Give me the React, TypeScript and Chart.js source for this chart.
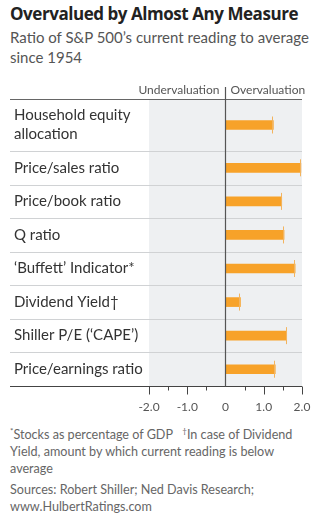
import React, { useEffect, useRef } from 'react';
import { Chart, registerables } from 'chart.js';
Chart.register(...registerables);

const categories: (string | string[])[] = [
  ['Household equity', 'allocation'],
  'Price/sales ratio',
  'Price/book ratio',
  'Q ratio',
  '‘Buffett’ Indicator*',
  'Dividend Yield†',
  'Shiller P/E (‘CAPE’)',
  'Price/earnings ratio',
];
const values: number[] = [1.25, 1.97, 1.47, 1.53, 1.82, 0.39, 1.6, 1.3];
const xTickValues: number[] = [-2, -1, 0, 1, 2];
const xTickLabels: string[] = ['-2.0', '-1.0', '0', '1.0', '2.0'];
const headerLeft = 'Undervaluation';
const headerRight = 'Overvaluation';

const FONT = 'Lato';
const TITLE_FONT = '"Open Sans"';

const rowWeights = categories.map((c) => (Array.isArray(c) ? 1 + 0.55 * (c.length - 1) : 1));
const bounds: number[] = [0];
rowWeights.forEach((w) => bounds.push(bounds[bounds.length - 1] + w));
const centers = rowWeights.map((w, i) => bounds[i] + w / 2);
const total = bounds[bounds.length - 1];

const decorPlugin = {
  id: 'decor',
  beforeDatasetsDraw(chart: any) {
    const { ctx, chartArea } = chart;
    ctx.save();
    ctx.fillStyle = '#eef0f2';
    ctx.fillRect(chartArea.left, chartArea.top, chartArea.right - chartArea.left, chartArea.bottom - chartArea.top);
    const y = chart.scales.y;
    ctx.strokeStyle = '#d0d2d4';
    ctx.lineWidth = 1;
    for (let i = 1; i < bounds.length - 1; i++) {
      const py = Math.round(y.getPixelForValue(bounds[i])) + 0.5;
      ctx.beginPath();
      ctx.moveTo(10, py);
      ctx.lineTo(chartArea.right, py);
      ctx.stroke();
    }
    ctx.restore();
  },
  afterDatasetsDraw(chart: any) {
    const { ctx, chartArea } = chart;
    const x = chart.scales.x;
    ctx.save();
    const meta = chart.getDatasetMeta(0);
    ctx.strokeStyle = '#f3b45e';
    ctx.lineWidth = 1;
    meta.data.forEach((bar: any) => {
      const px = Math.round(bar.x) - 0.5;
      ctx.beginPath();
      ctx.moveTo(px, bar.y - 8.5);
      ctx.lineTo(px, bar.y + 8.5);
      ctx.stroke();
    });
    ctx.strokeStyle = '#666';
    ctx.lineWidth = 1.2;
    const top = Math.round(chartArea.top) + 0.5;
    ctx.beginPath();
    ctx.moveTo(10, top);
    ctx.lineTo(chartArea.right, top);
    ctx.stroke();
    const bot = Math.round(chartArea.bottom) + 0.5;
    ctx.strokeStyle = '#444';
    ctx.beginPath();
    ctx.moveTo(10, bot);
    ctx.lineTo(chartArea.right, bot);
    ctx.stroke();
    ctx.strokeStyle = '#444';
    ctx.lineWidth = 1;
    x.ticks.forEach((t: any) => {
      if (t.value === 0) return;
      const px = Math.round(x.getPixelForValue(t.value)) + 0.5;
      const major = Number.isInteger(t.value);
      ctx.beginPath();
      ctx.moveTo(px, bot);
      ctx.lineTo(px, bot + (major ? 8 : 4));
      ctx.stroke();
    });
    const zx = Math.round(x.getPixelForValue(0)) - 0.5;
    ctx.strokeStyle = '#555';
    ctx.lineWidth = 1.2;
    ctx.beginPath();
    ctx.moveTo(zx, chartArea.top - 12);
    ctx.lineTo(zx, bot);
    ctx.stroke();
    ctx.fillStyle = '#555';
    ctx.font = `12px ${FONT}`;
    ctx.textBaseline = 'middle';
    ctx.textAlign = 'right';
    ctx.fillText(headerLeft, zx - 6, chartArea.top - 9);
    ctx.textAlign = 'left';
    ctx.fillText(headerRight, zx + 5, chartArea.top - 9);
    ctx.restore();
  },
};

export default function App() {
  const ref = useRef<HTMLCanvasElement>(null);
  useEffect(() => {
    if (!ref.current) return;
    const chart = new Chart(ref.current, {
      type: 'bar',
      data: {
        datasets: [
          {
            data: values.map((v, i) => ({ x: v, y: centers[i] })),
            backgroundColor: '#f7a229',
            borderWidth: 0,
            barThickness: 9,
          },
        ],
      },
      options: {
        indexAxis: 'y',
        animation: false,
        responsive: false,
        maintainAspectRatio: false,
        layout: { padding: { left: 14, right: 27, top: 24, bottom: 0 } },
        plugins: { legend: { display: false }, tooltip: { enabled: false } },
        scales: {
          x: {
            type: 'linear',
            min: -2,
            max: 2,
            position: 'bottom',
            border: { display: false },
            grid: { display: false },
            ticks: {
              stepSize: 0.5,
              autoSkip: false,
              maxRotation: 0,
              padding: 6,
              color: '#555',
              font: { family: FONT, size: 12 },
              callback: (v: any) => {
                const idx = xTickValues.indexOf(Number(v));
                return idx >= 0 ? xTickLabels[idx] : '';
              },
            },
            afterFit: (s: any) => {
              s.height = 29;
            },
          },
          y: {
            type: 'linear',
            reverse: true,
            offset: false,
            min: 0,
            max: total,
            border: { display: false },
            grid: { display: false, offset: false },
            afterBuildTicks: (s: any) => {
              s.ticks = centers.map((v) => ({ value: v }));
            },
            ticks: {
              autoSkip: false,
              crossAlign: 'far',
              color: '#333',
              font: { family: FONT, size: 15, lineHeight: 1.27 },
              callback: (_v: any, i: number) => categories[i] as any,
            },
            afterFit: (s: any) => {
              s.width = 135;
              s.paddingTop = 0;
              s.paddingBottom = 0;
            },
          },
        },
      } as any,
      plugins: [decorPlugin],
    });
    return () => chart.destroy();
  }, []);

  return (
    <div style={{ position: 'fixed', left: 0, top: 0, width: 329, height: 525, background: '#fff', fontFamily: FONT }}>
      <div style={{ position: 'absolute', left: 10, top: 2, fontFamily: TITLE_FONT, fontWeight: 700, fontSize: 17, letterSpacing: '-0.45px', color: '#222', whiteSpace: 'nowrap' }}>
        Overvalued by Almost Any Measure
      </div>
      <div style={{ position: 'absolute', left: 10, top: 27, width: 315, fontSize: 15, lineHeight: '20px', color: '#555' }}>
        Ratio of S&amp;P 500’s current reading to average since 1954
      </div>
      <canvas ref={ref} width={329} height={340} style={{ position: 'absolute', left: 0, top: 75, width: 329, height: 340 }} />
      <div style={{ position: 'absolute', left: 10, top: 423, width: 300, fontSize: 12.6, lineHeight: '17px', color: '#666' }}>
        <sup style={{ fontSize: 8 }}>*</sup>Stocks as percentage of GDP&nbsp;&nbsp; <sup style={{ fontSize: 8 }}>†</sup>In case of Dividend Yield, amount by which current reading is below average
      </div>
      <div style={{ position: 'absolute', left: 10, top: 481, width: 300, fontSize: 12.6, lineHeight: '17px', color: '#666' }}>
        Sources: Robert Shiller; Ned Davis Research; www.HulbertRatings.com
      </div>
    </div>
  );
}
